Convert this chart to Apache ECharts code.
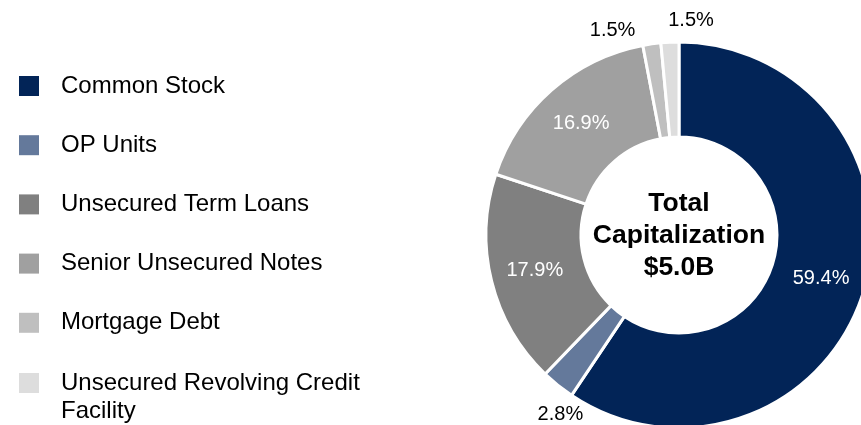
<!DOCTYPE html>
<html>
<head>
<meta charset="utf-8">
<script src="https://cdn.jsdelivr.net/npm/echarts@6/dist/echarts.min.js"></script>
<style>
  html, body { margin: 0; padding: 0; background: #ffffff; }
  #chart { width: 861px; height: 425px; }
</style>
</head>
<body>
<div id="chart"></div>
<script>
// Capitalization breakdown (% of total)
const categories = [
  'Common Stock',
  'OP Units',
  'Unsecured Term Loans',
  'Senior Unsecured Notes',
  'Mortgage Debt',
  'Unsecured Revolving Credit Facility'
];
const shares = [59.4, 2.8, 17.9, 16.9, 1.5, 1.5];
const colors = ['#022457', '#64799b', '#808080', '#a0a0a0', '#bfbfbf', '#dddddd'];
const centerLines = ['Total', 'Capitalization', '$5.0B'];

const FONT = '"Liberation Sans", Arial, Helvetica, sans-serif';
const CENTER = [679, 235];
const RADIUS = [98, 193];
const OUTER_LABEL_R = 215;
// small slices get their label outside the ring, nudged (degrees) to keep clear
const outerNudge = { 1: -5.4, 4: -9.9, 5: 5.9 };

const total = shares.reduce((a, b) => a + b, 0);
const midAngles = [];
let acc = 0;
shares.forEach(v => { midAngles.push((acc + v / 2) / total * 360); acc += v; });

const isInside = v => v >= 10;

const data = categories.map((name, i) => ({
  name: name,
  value: shares[i],
  itemStyle: { color: colors[i] },
  label: isInside(shares[i])
    ? { position: 'inside', color: '#ffffff' }
    : { position: 'outside', color: '#000000' },
  labelLine: { show: false }
}));

const legendBase = {
  orient: 'vertical',
  left: 19,
  padding: 0,
  itemWidth: 20,
  itemHeight: 20,
  itemGap: 31.2,
  icon: 'rect',
  selectedMode: false,
  itemStyle: { borderWidth: 0 },
  textStyle: {
    fontFamily: FONT,
    fontSize: 24,
    lineHeight: 28,
    color: '#000000',
    padding: [0, 0, 0, 17]
  }
};

const lastName = categories[categories.length - 1];

const chart = echarts.init(document.getElementById('chart'), null, { renderer: 'canvas' });

chart.setOption({
  backgroundColor: '#ffffff',
  animation: false,
  legend: [
    Object.assign({}, legendBase, {
      top: 72,
      data: categories.slice(0, -1)
    }),
    // the long entry wraps onto a second line; its swatch sits at the top of a
    // taller icon box so it lines up with the first line of text
    Object.assign({}, legendBase, {
      top: 369,
      itemHeight: 48,
      icon: 'path://M0 0H20V20H0Z M0 47.95H0.05V48H0Z',
      data: [lastName],
      formatter: () => 'Unsecured Revolving Credit\nFacility'
    })
  ],
  graphic: [{
    type: 'text',
    x: CENTER[0],
    y: CENTER[1] + 1,
    style: {
      text: centerLines.join('\n'),
      fontFamily: FONT,
      fontSize: 26.5,
      fontWeight: 'bold',
      lineHeight: 32,
      fill: '#000000',
      align: 'center',
      verticalAlign: 'middle'
    }
  }],
  series: [{
    type: 'pie',
    center: CENTER,
    radius: RADIUS,
    startAngle: 90,
    clockwise: true,
    avoidLabelOverlap: false,
    silent: true,
    itemStyle: { borderColor: '#ffffff', borderWidth: 3 },
    label: {
      fontFamily: FONT,
      fontSize: 20,
      formatter: p => p.value + '%'
    },
    labelLine: { show: false },
    labelLayout: function (params) {
      const i = params.dataIndex;
      if (isInside(shares[i])) return {};
      const a = (midAngles[i] + (outerNudge[i] || 0)) * Math.PI / 180;
      return {
        x: CENTER[0] + OUTER_LABEL_R * Math.sin(a),
        y: CENTER[1] - OUTER_LABEL_R * Math.cos(a),
        align: 'center',
        verticalAlign: 'middle'
      };
    },
    data: data
  }]
});
</script>
</body>
</html>
